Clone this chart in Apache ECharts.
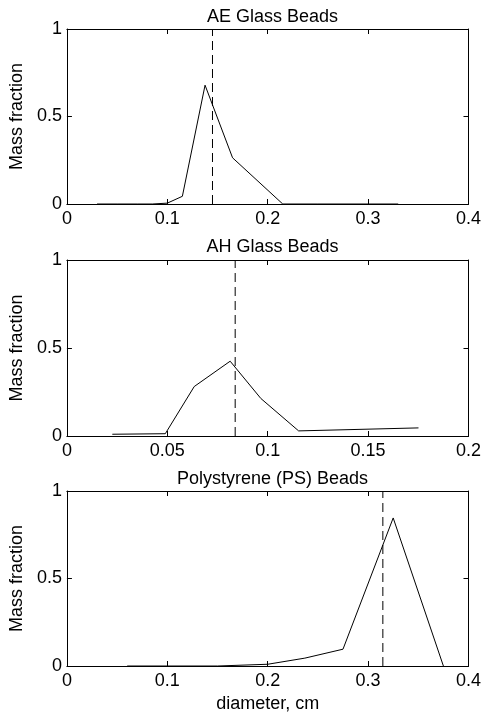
<!DOCTYPE html>
<html>
<head>
<meta charset="utf-8">
<script src="https://cdn.jsdelivr.net/npm/echarts@6/dist/echarts.min.js"></script>
<style>html,body{margin:0;padding:0;background:#fff;}#c{width:484px;height:721px;}</style>
</head>
<body>
<div id="c"></div>
<script>
// ---- data ----
const titles = ["AE Glass Beads", "AH Glass Beads", "Polystyrene (PS) Beads"];
const yLabel = "Mass fraction";
const xLabel = "diameter, cm";

const aeDiameter = [0.03, 0.05, 0.07, 0.085, 0.1, 0.115, 0.1376, 0.165, 0.215, 0.25, 0.3, 0.33];
const aeMass     = [0, 0, 0, 0, 0.005, 0.044, 0.679, 0.264, 0, 0, 0, 0];
const aeMean = 0.145;

const ahDiameter = [0.0226, 0.049, 0.0634, 0.0813, 0.0966, 0.1154, 0.1751];
const ahMass     = [0.01, 0.013, 0.281, 0.425, 0.213, 0.029, 0.046];
const ahMean = 0.0838;

const psDiameter = [0.06, 0.1, 0.15, 0.2, 0.237, 0.275, 0.325, 0.375];
const psMass     = [0, 0, 0, 0.01, 0.045, 0.096, 0.846, 0];
const psMean = 0.3147;

const xRanges = [[0, 0.4, 0.1], [0, 0.2, 0.05], [0, 0.4, 0.1]];
const yRange = [0, 1, 0.5];

// ---- build ----
const FONT = "Liberation Sans, Arial, sans-serif";
const FS = 18;
const grids = [
  {left: 65, right: 14, top: 29, height: 175},
  {left: 65, right: 14, top: 260, height: 176},
  {left: 65, right: 14, top: 491, height: 175}
];
const titleTops = [3, 233, 465];

const xAxes = [], yAxes = [], series = [];
const zip = (a, b) => a.map((v, i) => [v, b[i]]);
const sets = [[aeDiameter, aeMass, aeMean], [ahDiameter, ahMass, ahMean], [psDiameter, psMass, psMean]];

sets.forEach((s, i) => {
  const [xmin, xmax, xint] = xRanges[i];
  const axisLine = {show: true, onZero: false, lineStyle: {color: '#000', width: 1}};
  const tick = {show: true, inside: true, length: 5, lineStyle: {color: '#000', width: 1}};
  xAxes.push({
    type: 'value', gridIndex: i, position: 'bottom', min: xmin, max: xmax, interval: xint,
    axisLine, axisTick: tick, splitLine: {show: false},
    axisLabel: {color: '#000', fontSize: FS, fontFamily: FONT, margin: 6},
    name: i === 2 ? xLabel : '', nameLocation: 'middle', nameGap: 29,
    nameTextStyle: {color: '#000', fontSize: FS, fontFamily: FONT}
  });
  xAxes.push({
    type: 'value', gridIndex: i, position: 'top', min: xmin, max: xmax, interval: xint,
    axisLine, axisTick: tick, splitLine: {show: false}, axisLabel: {show: false}
  });
  yAxes.push({
    type: 'value', gridIndex: i, position: 'left', min: yRange[0], max: yRange[1], interval: yRange[2],
    axisLine, axisTick: tick, splitLine: {show: false},
    axisLabel: {color: '#000', fontSize: FS, fontFamily: FONT, margin: 5},
    name: yLabel, nameLocation: 'middle', nameGap: 28, nameRotate: 90,
    nameTextStyle: {color: '#000', fontSize: FS, fontFamily: FONT}
  });
  yAxes.push({
    type: 'value', gridIndex: i, position: 'right', min: yRange[0], max: yRange[1], interval: yRange[2],
    axisLine, axisTick: tick, splitLine: {show: false}, axisLabel: {show: false}
  });
  series.push({
    type: 'line', xAxisIndex: 2 * i, yAxisIndex: 2 * i, data: zip(s[0], s[1]),
    showSymbol: false, symbol: 'none', lineStyle: {color: '#000', width: 1}, silent: true, animation: false
  });
  series.push({
    type: 'line', xAxisIndex: 2 * i, yAxisIndex: 2 * i, data: [[s[2], yRange[0]], [s[2], yRange[1]]],
    showSymbol: false, symbol: 'none', lineStyle: {color: '#000', width: 1, type: [9, 5]}, silent: true, animation: false
  });
});

const chart = echarts.init(document.getElementById('c'), null, {renderer: 'canvas'});
chart.setOption({
  animation: false,
  backgroundColor: '#fff',
  title: titles.map((t, i) => ({
    text: t, left: 267.5, top: titleTops[i], textAlign: 'center',
    textStyle: {color: '#000', fontSize: FS, fontWeight: 'normal', fontFamily: FONT}
  })),
  grid: grids,
  xAxis: xAxes,
  yAxis: yAxes,
  series
});
</script>
</body>
</html>
